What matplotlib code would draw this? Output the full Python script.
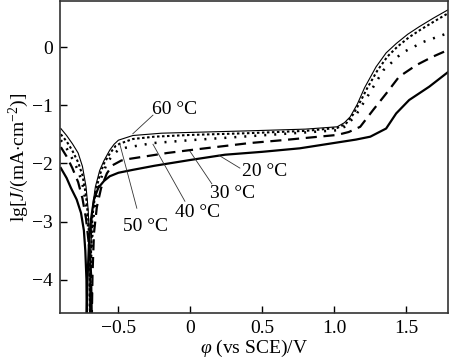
import matplotlib
matplotlib.use("Agg")
import matplotlib.pyplot as plt

plt.rcParams['font.family'] = ['Liberation Serif', 'DejaVu Serif']
plt.rcParams['mathtext.fontset'] = 'custom'
plt.rcParams['mathtext.rm'] = 'Liberation Serif'
plt.rcParams['mathtext.it'] = 'Liberation Serif:italic'
plt.rcParams['font.size'] = 14

# polarization curves: potential (V vs SCE) and lg J
phi_20 = [-0.90, -0.86, -0.83, -0.79, -0.76, -0.74, -0.73, -0.722, -0.72, -0.715, -0.705, -0.69, -0.67,
          -0.64, -0.60, -0.56, -0.50, -0.40, -0.25, 0.0, 0.24, 0.5, 0.76, 1.02, 1.15, 1.25, 1.36, 1.43,
          1.52, 1.66, 1.79]
lg_20 = [-2.08, -2.25, -2.42, -2.62, -2.85, -3.15, -3.5, -4.0, -4.7, -4.0, -3.4, -2.95, -2.62,
         -2.42, -2.30, -2.22, -2.16, -2.11, -2.04, -1.94, -1.85, -1.80, -1.74, -1.64, -1.59, -1.54, -1.40, -1.14,
         -0.91, -0.68, -0.43]

phi_30 = [-0.90, -0.86, -0.82, -0.78, -0.75, -0.725, -0.705, -0.69, -0.685, -0.68, -0.67, -0.65, -0.62,
          -0.58, -0.54, -0.48, -0.42, -0.16, 0.0, 0.41, 0.64, 1.02, 1.10, 1.18, 1.27, 1.36, 1.45, 1.57,
          1.68, 1.79]
lg_30 = [-1.72, -1.88, -2.08, -2.32, -2.60, -2.95, -3.4, -3.9, -4.7, -3.9, -3.2, -2.75, -2.42,
         -2.17, -2.03, -1.95, -1.92, -1.82, -1.77, -1.65, -1.60, -1.51, -1.46, -1.37, -1.08, -0.80, -0.51, -0.31,
         -0.17, -0.05]

phi_40 = [-0.90, -0.86, -0.82, -0.78, -0.75, -0.725, -0.71, -0.70, -0.697, -0.69, -0.675, -0.65, -0.62,
          -0.58, -0.54, -0.50, -0.45, -0.26, 0.0, 0.24, 0.6, 1.02, 1.08, 1.15, 1.25, 1.34, 1.47, 1.62, 1.79]
lg_40 = [-1.60, -1.74, -1.92, -2.12, -2.35, -2.70, -3.1, -3.6, -4.7, -3.6, -2.95, -2.55, -2.25,
         -2.00, -1.85, -1.77, -1.73, -1.65, -1.60, -1.56, -1.50, -1.43, -1.36, -1.17, -0.77, -0.40, -0.10, 0.09, 0.24]

phi_50 = [-0.90, -0.86, -0.82, -0.78, -0.75, -0.725, -0.71, -0.70, -0.698, -0.69, -0.68, -0.66, -0.63,
          -0.60, -0.56, -0.52, -0.49, -0.40, -0.25, 0.0, 0.4, 0.8, 1.02, 1.08, 1.13, 1.18, 1.23, 1.30, 1.37,
          1.44, 1.52, 1.60, 1.70, 1.79]
lg_50 = [-1.50, -1.62, -1.78, -1.98, -2.20, -2.55, -2.95, -3.5, -4.7, -3.5, -2.9, -2.5, -2.2,
         -2.00, -1.83, -1.70, -1.66, -1.58, -1.54, -1.51, -1.48, -1.44, -1.39, -1.32, -1.16, -0.94, -0.70, -0.40, -0.16,
         0.01, 0.17, 0.30, 0.45, 0.58]

phi_60 = [-0.90, -0.86, -0.82, -0.78, -0.75, -0.725, -0.71, -0.70, -0.695, -0.69, -0.68, -0.66, -0.63,
          -0.60, -0.56, -0.53, -0.50, -0.40, -0.20, 0.4, 0.8, 1.02, 1.07, 1.11, 1.16, 1.21, 1.29, 1.36, 1.43,
          1.51, 1.59, 1.69, 1.79]
lg_60 = [-1.40, -1.52, -1.66, -1.82, -2.05, -2.40, -2.8, -3.4, -4.7, -3.4, -2.75, -2.4, -2.12,
         -1.95, -1.77, -1.67, -1.60, -1.52, -1.48, -1.44, -1.41, -1.37, -1.30, -1.20, -0.98, -0.70, -0.34, -0.10, 0.06,
         0.22, 0.35, 0.50, 0.64]

labels = ["20 °C", "30 °C", "40 °C", "50 °C", "60 °C"]

fig = plt.figure(figsize=(4.5, 3.64), dpi=100)
ax = fig.add_axes([0.1333, 0.1401, 0.8623, 0.8569])

ax.plot(phi_20, lg_20, color='black', lw=1.6, solid_joinstyle='round')
ax.plot(phi_30, lg_30, color='black', lw=1.6, dashes=(5, 3))
ax.plot(phi_40, lg_40, color='black', lw=1.8, dashes=(0.8, 3.2))
ax.plot(phi_50, lg_50, color='black', lw=1.5, dashes=(1.2, 1.2))
ax.plot(phi_60, lg_60, color='black', lw=0.8)

# label text and leader lines
label_pos = [(0.517, -2.13), (0.295, -2.51), (0.052, -2.85), (-0.309, -3.09), (-0.108, -1.065)]
leaders = [((0.344, -2.08), (0.198, -1.86)),
           ((0.149, -2.35), (-0.003, -1.79)),
           ((-0.038, -2.65), (-0.26, -1.67)),
           ((-0.372, -2.77), (-0.49, -1.67)),
           ((-0.26, -1.17), (-0.40, -1.49))]
for lab, pos, (p0, p1) in zip(labels, label_pos, leaders):
    ax.text(pos[0], pos[1], lab, ha='center', va='center', fontsize=14)
    ax.plot([p0[0], p1[0]], [p0[1], p1[1]], color='#333333', lw=0.6)

ax.set_xlim(-0.906, 1.79)
ax.set_ylim(-4.57, 0.79)
ax.set_xticks([-0.5, 0, 0.5, 1.0, 1.5])
ax.set_xticklabels(['\u22120.5', '0', '0.5', '1.0', '1.5'])
ax.set_yticks([-4, -3, -2, -1, 0])
ax.tick_params(direction='in', length=5, width=1, labelsize=14, pad=5)
for s in ax.spines.values():
    s.set_linewidth(1.2)
    s.set_color('#333333')

ax.set_xlabel(r'$\varphi$ (vs SCE)/V', fontsize=14, labelpad=1)
ax.set_ylabel(r'lg[$J$/(mA$\cdot$cm$^{-2}$)]', fontsize=14, labelpad=1)

fig.savefig('out.png', dpi=100)
